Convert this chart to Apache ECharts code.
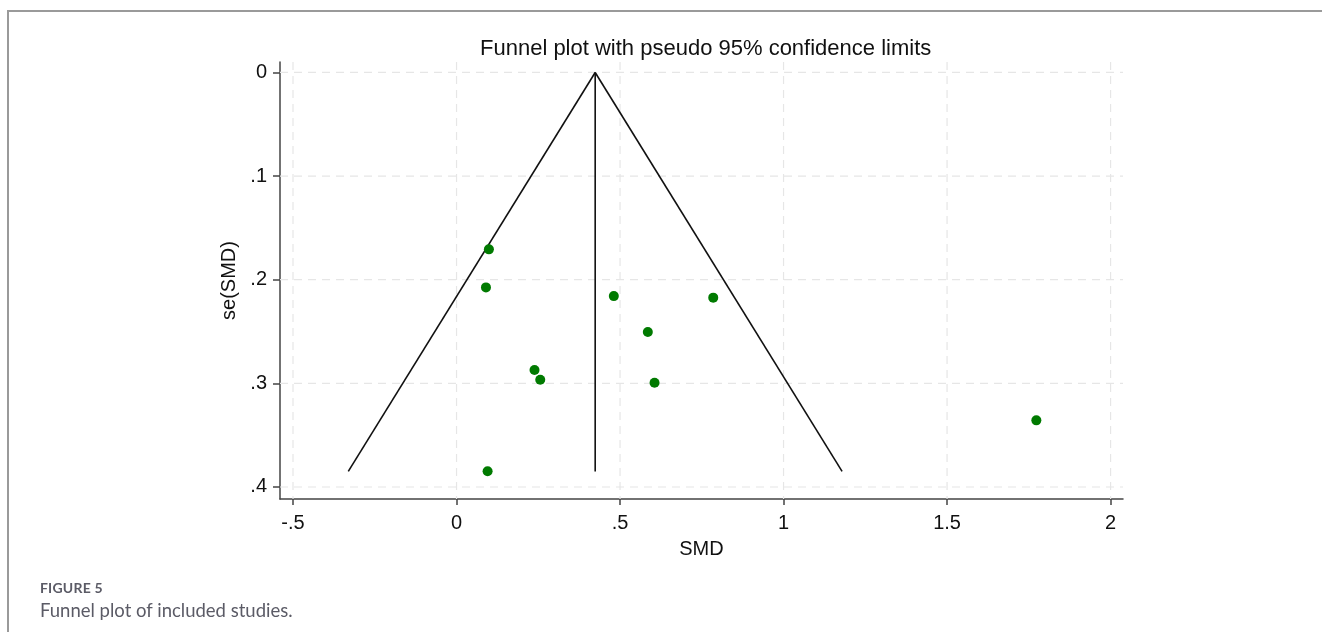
<!DOCTYPE html>
<html>
<head>
<meta charset="utf-8">
<script src="https://cdn.jsdelivr.net/npm/echarts@6/dist/echarts.min.js"></script>
<style>
  html, body { margin: 0; padding: 0; background: #fff; }
  #frame { position: absolute; left: 7px; top: 10px; width: 1320px; height: 630px;
           border-left: 2px solid #9a9a9a; border-top: 2px solid #9a9a9a; }
  #chart { position: absolute; left: 0; top: 0; width: 1322px; height: 632px; }
  .cap1 { position: absolute; left: 40px; top: 579px; font: bold 14px Lato, "Open Sans", sans-serif; color: #5b5b66; letter-spacing: 0.2px; }
  .cap2 { position: absolute; left: 40px; top: 599px; font: 18.5px Lato, "Open Sans", sans-serif; color: #5b5b66; }
</style>
</head>
<body>
<div id="frame"></div>
<div id="chart"></div>
<div class="cap1">FIGURE 5</div>
<div class="cap2">Funnel plot of included studies.</div>
<script>
// study estimates
const smd = [0.099, 0.090, 0.481, 0.785, 0.585, 0.2385, 0.256, 0.6055, 1.773, 0.095];
const seSmd = [0.1707, 0.2074, 0.2158, 0.2173, 0.2505, 0.2871, 0.2965, 0.2994, 0.3357, 0.3849];

// pseudo 95% limits and pooled line (end points)
const limitLeft = [[0.424, 0], [-0.331, 0.385]];
const limitRight = [[0.424, 0], [1.179, 0.385]];
const pooledLine = [[0.424, 0], [0.424, 0.385]];

const xTicks = [-0.5, 0, 0.5, 1, 1.5, 2];
const xTickLabels = ['-.5', '0', '.5', '1', '1.5', '2'];
const yTicks = [0, 0.1, 0.2, 0.3, 0.4];
const yTickLabels = ['0', '.1', '.2', '.3', '.4'];

const chart = echarts.init(document.getElementById('chart'));

const axisFont = { fontFamily: 'Liberation Sans, Arial, sans-serif', fontSize: 20, color: '#111' };
const gridDash = { color: '#e6e6e6', width: 1.2, type: [8, 6] };

const points = smd.map((v, i) => [v, seSmd[i]]);

// dashed grid lines, drawn as line series at the tick values
const gridSeries = [];
xTicks.forEach(t => gridSeries.push({
  type: 'line', data: [[t, -0.0101], [t, 0.4116]], symbol: 'none', silent: true,
  lineStyle: gridDash, z: 1
}));
yTicks.forEach(t => gridSeries.push({
  type: 'line', data: [[-0.5398, t], [2.038, t]], symbol: 'none', silent: true,
  lineStyle: gridDash, z: 1
}));

chart.setOption({
  animation: false,
  title: {
    text: 'Funnel plot with pseudo 95% confidence limits',
    left: 475, top: 33,
    textStyle: { fontFamily: 'Liberation Sans, Arial, sans-serif', fontSize: 22, fontWeight: 'normal', color: '#111' }
  },
  grid: { left: 280, top: 62, right: 199, bottom: 133 },
  xAxis: {
    type: 'value', min: -0.5398, max: 2.038,
    name: 'SMD', nameLocation: 'middle', nameGap: 40,
    nameTextStyle: axisFont,
    axisLine: { show: true, onZero: false, lineStyle: { color: '#444', width: 1.5 } },
    axisTick: { show: true, length: 6, customValues: xTicks, lineStyle: { color: '#444', width: 1.5 } },
    axisLabel: {
      customValues: xTicks, margin: 14, ...axisFont,
      formatter: v => xTickLabels[xTicks.findIndex(t => Math.abs(t - v) < 1e-6)]
    },
    splitLine: { show: false }
  },
  yAxis: {
    type: 'value', inverse: true, min: -0.0101, max: 0.4116,
    name: 'se(SMD)', nameLocation: 'middle', nameGap: 41, nameRotate: 90,
    nameTextStyle: axisFont,
    axisLine: { show: true, onZero: false, lineStyle: { color: '#444', width: 1.5 } },
    axisTick: { show: true, length: 7, customValues: yTicks, lineStyle: { color: '#444', width: 1.5 } },
    axisLabel: {
      customValues: yTicks, margin: 13, ...axisFont,
      formatter: v => yTickLabels[yTicks.findIndex(t => Math.abs(t - v) < 1e-6)]
    },
    splitLine: { show: false }
  },
  series: [
    ...gridSeries,
    { type: 'line', data: limitLeft, symbol: 'none', lineStyle: { color: '#111', width: 1.6 }, z: 3 },
    { type: 'line', data: limitRight, symbol: 'none', lineStyle: { color: '#111', width: 1.6 }, z: 3 },
    { type: 'line', data: pooledLine, symbol: 'none', lineStyle: { color: '#111', width: 1.6 }, z: 3 },
    { type: 'scatter', data: points, symbolSize: 10, itemStyle: { color: '#007a00', opacity: 1 }, z: 5 }
  ]
});
</script>
</body>
</html>
